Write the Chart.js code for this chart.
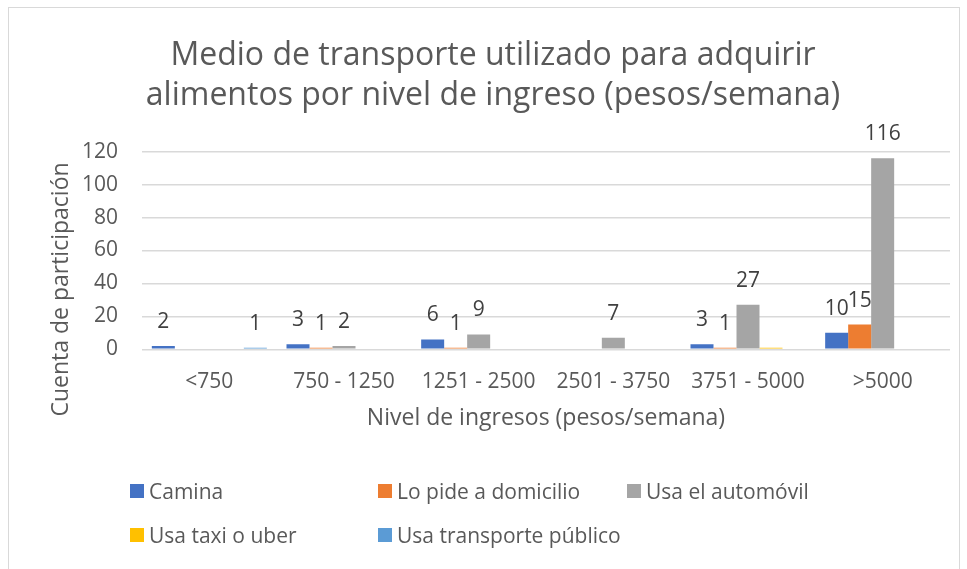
<!DOCTYPE html>
<html>
<head>
<meta charset="utf-8">
<script src="https://cdn.jsdelivr.net/npm/chart.js@4/dist/chart.umd.min.js"></script>
<style>
  body { margin: 0; background: #fff; font-family: "Open Sans", sans-serif; }
  #wrap { position: relative; width: 967px; height: 569px; overflow: hidden; }
  #frame { position: absolute; left: 8px; top: 7px; width: 952px; height: 600px; border: 1px solid #d9d9d9; box-sizing: border-box; }
  #chart { position: absolute; left: 0; top: 0; }
  #legend { position: absolute; left: 0; top: 0; width: 967px; height: 569px; pointer-events: none; }
  .item { position: absolute; display: flex; align-items: center; font-size: 21px; color: #595959; white-space: nowrap; transform: translateY(-50%); }
  .box { width: 14px; height: 14px; margin-right: 5px; }
</style>
</head>
<body>
<div id="wrap">
  <div id="frame"></div>
  <canvas id="chart" width="967" height="569"></canvas>
  <div id="legend"></div>
</div>
<script>
const categories = ['<750', '750 - 1250', '1251 - 2500', '2501 - 3750', '3751 - 5000', '>5000'];
const seriesNames = ['Camina', 'Lo pide a domicilio', 'Usa el automóvil', 'Usa taxi o uber', 'Usa transporte público'];
const camina = [2, 3, 6, null, 3, 10];
const domicilio = [null, 1, 1, null, 1, 15];
const automovil = [null, 2, 9, 7, 27, 116];
const taxi = [null, null, null, null, 1, null];
const publico = [1, null, null, null, null, null];
const colors = ['#4472C4', '#ED7D31', '#A5A5A5', '#FFC000', '#5B9BD5'];
const showLabels = [true, true, true, false, true];
const yTicks = [0, 20, 40, 60, 80, 100, 120];

const values = [camina, domicilio, automovil, taxi, publico];

// value labels above the bars
const barLabels = {
    id: 'barLabels',
    afterDatasetsDraw(chart) {
        const ctx = chart.ctx;
        ctx.save();
        ctx.font = '21px "Open Sans"';
        ctx.fillStyle = '#404040';
        ctx.textAlign = 'center';
        ctx.textBaseline = 'middle';
        chart.data.datasets.forEach((ds, i) => {
            if (!showLabels[i]) return;
            chart.getDatasetMeta(i).data.forEach((bar, j) => {
                const v = ds.data[j];
                if (v == null) return;
                ctx.fillText(v, bar.x, bar.y - 24);
            });
        });
        ctx.restore();
    }
};

// y axis title, placed like in the Excel original
const yTitle = {
    id: 'yTitle',
    afterDraw(chart) {
        const ctx = chart.ctx;
        const area = chart.chartArea;
        ctx.save();
        ctx.translate(61, (area.top + area.bottom) / 2 + 39);
        ctx.rotate(-Math.PI / 2);
        ctx.font = '23px "Open Sans"';
        ctx.fillStyle = '#595959';
        ctx.textAlign = 'center';
        ctx.textBaseline = 'middle';
        ctx.fillText('Cuenta de participación', 0, 0);
        ctx.restore();
    }
};

const chart = new Chart(document.getElementById('chart'), {
    type: 'bar',
    data: {
        labels: categories,
        datasets: seriesNames.map((name, i) => ({
            label: name,
            data: values[i],
            backgroundColor: colors[i],
            categoryPercentage: 0.854,
            barPercentage: 1
        }))
    },
    options: {
        responsive: false,
        animation: false,
        layout: { padding: { left: 36, right: 17, top: 0, bottom: 136.7 } },
        plugins: {
            legend: { display: false },
            tooltip: { enabled: false },
            title: {
                display: true,
                text: ['Medio de transporte utilizado para adquirir', 'alimentos por nivel de ingreso (pesos/semana)'],
                color: '#595959',
                font: { family: 'Open Sans', size: 32, weight: 'normal', lineHeight: 1.25 },
                padding: { top: 36, bottom: 35.7 }
            }
        },
        scales: {
            x: {
                afterFit(scale) { scale.height = 83; },
                grid: { display: false, drawTicks: false },
                border: { display: false },
                ticks: { color: '#595959', font: { family: 'Open Sans', size: 21 }, padding: 20.5, maxRotation: 0 },
                title: {
                    display: true,
                    text: 'Nivel de ingresos (pesos/semana)',
                    color: '#595959',
                    font: { family: 'Open Sans', size: 23 },
                    padding: { top: 0, bottom: 0 }
                }
            },
            y: {
                min: 0,
                max: 120,
                afterFit(scale) { scale.width = 106; },
                afterBuildTicks(scale) { scale.ticks = yTicks.map(v => ({ value: v })); },
                grid: { color: '#D9D9D9', lineWidth: 1.5, drawTicks: false },
                border: { display: false },
                ticks: { color: '#595959', font: { family: 'Open Sans', size: 21 }, padding: 24 }
            }
        }
    },
    plugins: [barLabels, yTitle]
});

// legend in Excel's three-column layout
const legendCols = [130, 378, 627];
const legendRows = [491, 535];
const legend = document.getElementById('legend');
chart.data.datasets.forEach((ds, i) => {
    const item = document.createElement('div');
    item.className = 'item';
    item.style.left = legendCols[i % 3] + 'px';
    item.style.top = legendRows[Math.floor(i / 3)] + 'px';
    item.innerHTML = '<span class="box" style="background:' + ds.backgroundColor + '"></span><span>' + ds.label + '</span>';
    legend.appendChild(item);
});
</script>
</body>
</html>
